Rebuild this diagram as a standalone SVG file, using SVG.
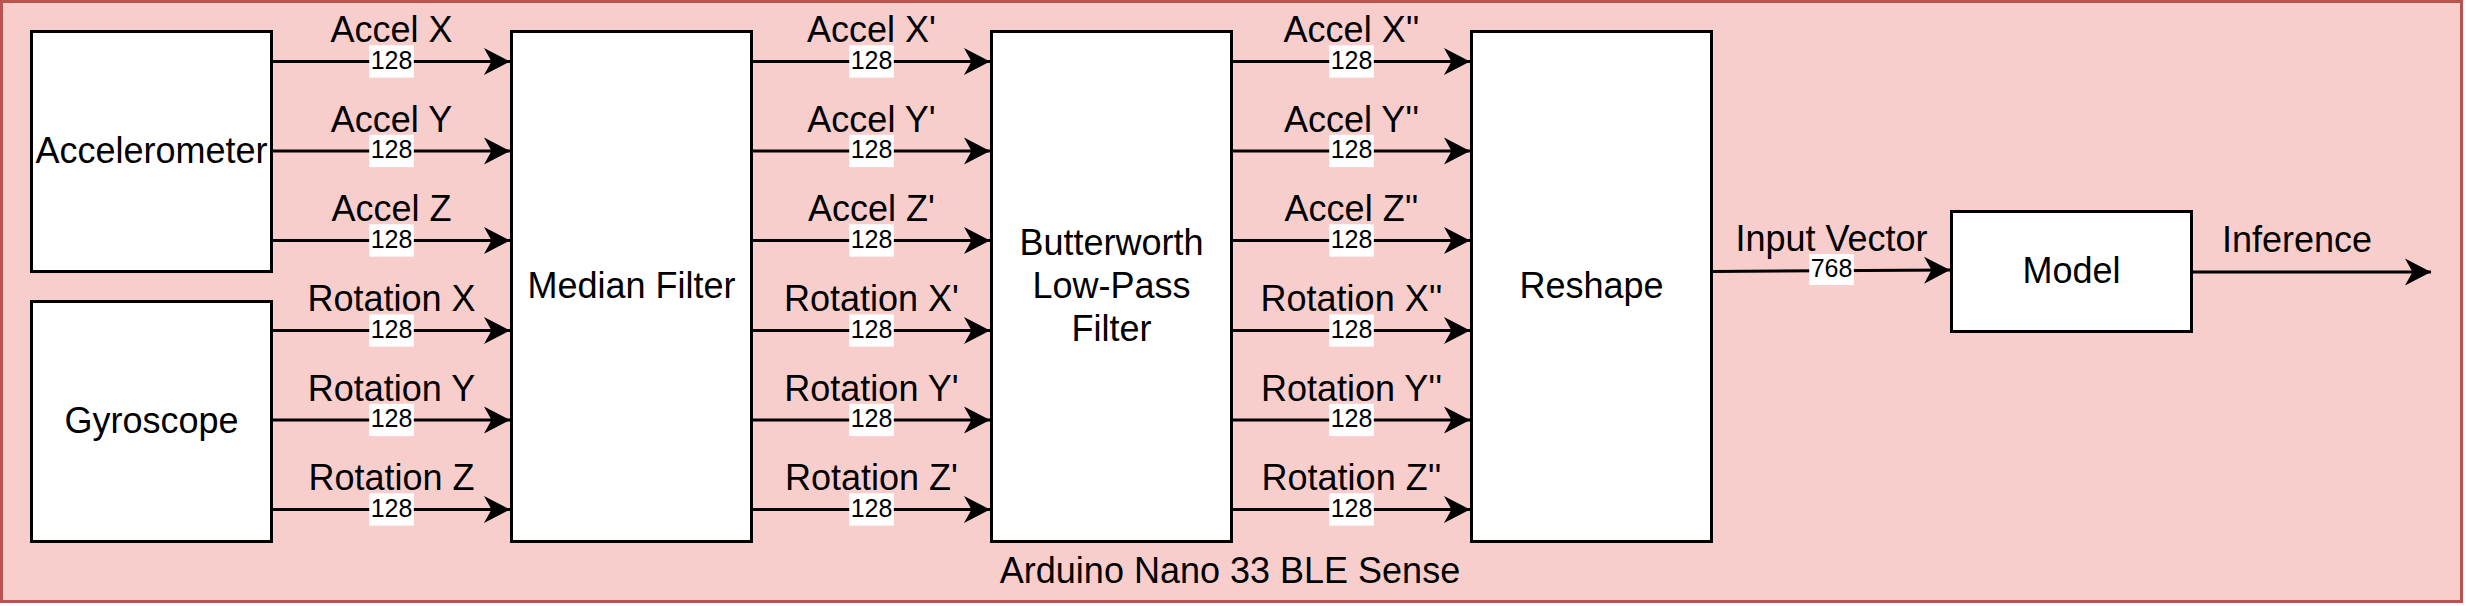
<svg xmlns="http://www.w3.org/2000/svg" width="2466" height="606" viewBox="0 0 2466 606">
<defs>
<marker id="arr" markerUnits="userSpaceOnUse" markerWidth="30" markerHeight="30" viewBox="0 0 30 30" refX="26" refY="15" orient="auto">
<path d="M0,1.5 L26,15 L0,28.5 L7.5,15 Z" fill="#000"/>
</marker>
<style>
text{font-family:"Liberation Sans",Arial,Helvetica,sans-serif;fill:#000}
.t{font-size:36px;text-anchor:middle}
.n{font-size:25px;text-anchor:middle}
.box{fill:#fff;stroke:#000;stroke-width:3}
.e{stroke:#000;stroke-width:3;fill:none;marker-end:url(#arr)}
.lb{fill:#fff}
</style>
</defs>
<g id="container">
<rect x="1.5" y="1.5" width="2460" height="600" fill="#f8cecc" stroke="#b85450" stroke-width="3"/>
<text class="t" x="1230" y="583">Arduino Nano 33 BLE Sense</text>
</g>
<g id="connectors">
<path class="e" d="M271.5,61.5 H510"/>
<path class="e" d="M271.5,151 H510"/>
<path class="e" d="M271.5,240.5 H510"/>
<path class="e" d="M271.5,330.5 H510"/>
<path class="e" d="M271.5,420 H510"/>
<path class="e" d="M271.5,509.5 H510"/>
<path class="e" d="M751.5,61.5 H990"/>
<path class="e" d="M751.5,151 H990"/>
<path class="e" d="M751.5,240.5 H990"/>
<path class="e" d="M751.5,330.5 H990"/>
<path class="e" d="M751.5,420 H990"/>
<path class="e" d="M751.5,509.5 H990"/>
<path class="e" d="M1231.5,61.5 H1470"/>
<path class="e" d="M1231.5,151 H1470"/>
<path class="e" d="M1231.5,240.5 H1470"/>
<path class="e" d="M1231.5,330.5 H1470"/>
<path class="e" d="M1231.5,420 H1470"/>
<path class="e" d="M1231.5,509.5 H1470"/>
<path class="e" d="M1711.5,271.5 L1950,270"/>
<path class="e" d="M2191.5,272 H2431"/>
<g id="edge-labels">
<text class="t" x="391.5" y="42">Accel X</text>
<text class="t" x="391.5" y="131.5">Accel Y</text>
<text class="t" x="391.5" y="221">Accel Z</text>
<text class="t" x="391.5" y="311">Rotation X</text>
<text class="t" x="391.5" y="400.5">Rotation Y</text>
<text class="t" x="391.5" y="490">Rotation Z</text>
<text class="t" x="871.5" y="42">Accel X'</text>
<text class="t" x="871.5" y="131.5">Accel Y'</text>
<text class="t" x="871.5" y="221">Accel Z'</text>
<text class="t" x="871.5" y="311">Rotation X'</text>
<text class="t" x="871.5" y="400.5">Rotation Y'</text>
<text class="t" x="871.5" y="490">Rotation Z'</text>
<text class="t" x="1351.5" y="42">Accel X''</text>
<text class="t" x="1351.5" y="131.5">Accel Y''</text>
<text class="t" x="1351.5" y="221">Accel Z''</text>
<text class="t" x="1351.5" y="311">Rotation X''</text>
<text class="t" x="1351.5" y="400.5">Rotation Y''</text>
<text class="t" x="1351.5" y="490">Rotation Z''</text>
<text class="t" x="1831.5" y="251">Input Vector</text>
<text class="t" x="2297" y="252">Inference</text>
</g>
<g id="size-labels">
<g id="s1">
<rect class="lb" x="369.2" y="45.3" width="44.6" height="32.3"/><text class="n" x="391.5" y="68.5">128</text>
<rect class="lb" x="369.2" y="134.8" width="44.6" height="32.3"/><text class="n" x="391.5" y="158">128</text>
<rect class="lb" x="369.2" y="224.3" width="44.6" height="32.3"/><text class="n" x="391.5" y="247.5">128</text>
<rect class="lb" x="369.2" y="314.3" width="44.6" height="32.3"/><text class="n" x="391.5" y="337.5">128</text>
<rect class="lb" x="369.2" y="403.8" width="44.6" height="32.3"/><text class="n" x="391.5" y="427">128</text>
<rect class="lb" x="369.2" y="493.3" width="44.6" height="32.3"/><text class="n" x="391.5" y="516.5">128</text>
</g>
<g id="s2">
<rect class="lb" x="849.2" y="45.3" width="44.6" height="32.3"/><text class="n" x="871.5" y="68.5">128</text>
<rect class="lb" x="849.2" y="134.8" width="44.6" height="32.3"/><text class="n" x="871.5" y="158">128</text>
<rect class="lb" x="849.2" y="224.3" width="44.6" height="32.3"/><text class="n" x="871.5" y="247.5">128</text>
<rect class="lb" x="849.2" y="314.3" width="44.6" height="32.3"/><text class="n" x="871.5" y="337.5">128</text>
<rect class="lb" x="849.2" y="403.8" width="44.6" height="32.3"/><text class="n" x="871.5" y="427">128</text>
<rect class="lb" x="849.2" y="493.3" width="44.6" height="32.3"/><text class="n" x="871.5" y="516.5">128</text>
</g>
<g id="s3">
<rect class="lb" x="1329.2" y="45.3" width="44.6" height="32.3"/><text class="n" x="1351.5" y="68.5">128</text>
<rect class="lb" x="1329.2" y="134.8" width="44.6" height="32.3"/><text class="n" x="1351.5" y="158">128</text>
<rect class="lb" x="1329.2" y="224.3" width="44.6" height="32.3"/><text class="n" x="1351.5" y="247.5">128</text>
<rect class="lb" x="1329.2" y="314.3" width="44.6" height="32.3"/><text class="n" x="1351.5" y="337.5">128</text>
<rect class="lb" x="1329.2" y="403.8" width="44.6" height="32.3"/><text class="n" x="1351.5" y="427">128</text>
<rect class="lb" x="1329.2" y="493.3" width="44.6" height="32.3"/><text class="n" x="1351.5" y="516.5">128</text>
</g>
<rect class="lb" x="1809.2" y="254" width="44.6" height="31"/><text class="n" x="1831.5" y="277">768</text>
</g>
</g>
<g id="accelerometer">
<rect class="box" x="31.5" y="31.5" width="240" height="240"/>
<text class="t" x="151.5" y="162.5">Accelerometer</text>
</g>
<g id="gyroscope">
<rect class="box" x="31.5" y="301.5" width="240" height="240"/>
<text class="t" x="151.5" y="432.5">Gyroscope</text>
</g>
<g id="median-filter">
<rect class="box" x="511.5" y="31.5" width="240" height="510"/>
<text class="t" x="631.5" y="297.5">Median Filter</text>
</g>
<g id="butterworth">
<rect class="box" x="991.5" y="31.5" width="240" height="510"/>
<text class="t" x="1111.5" y="254.5">Butterworth</text>
<text class="t" x="1111.5" y="297.5">Low-Pass</text>
<text class="t" x="1111.5" y="340.5">Filter</text>
</g>
<g id="reshape">
<rect class="box" x="1471.5" y="31.5" width="240" height="510"/>
<text class="t" x="1591.5" y="297.5">Reshape</text>
</g>
<g id="model">
<rect class="box" x="1951.5" y="211.5" width="240" height="120"/>
<text class="t" x="2071.5" y="282.5">Model</text>
</g>
</svg>
